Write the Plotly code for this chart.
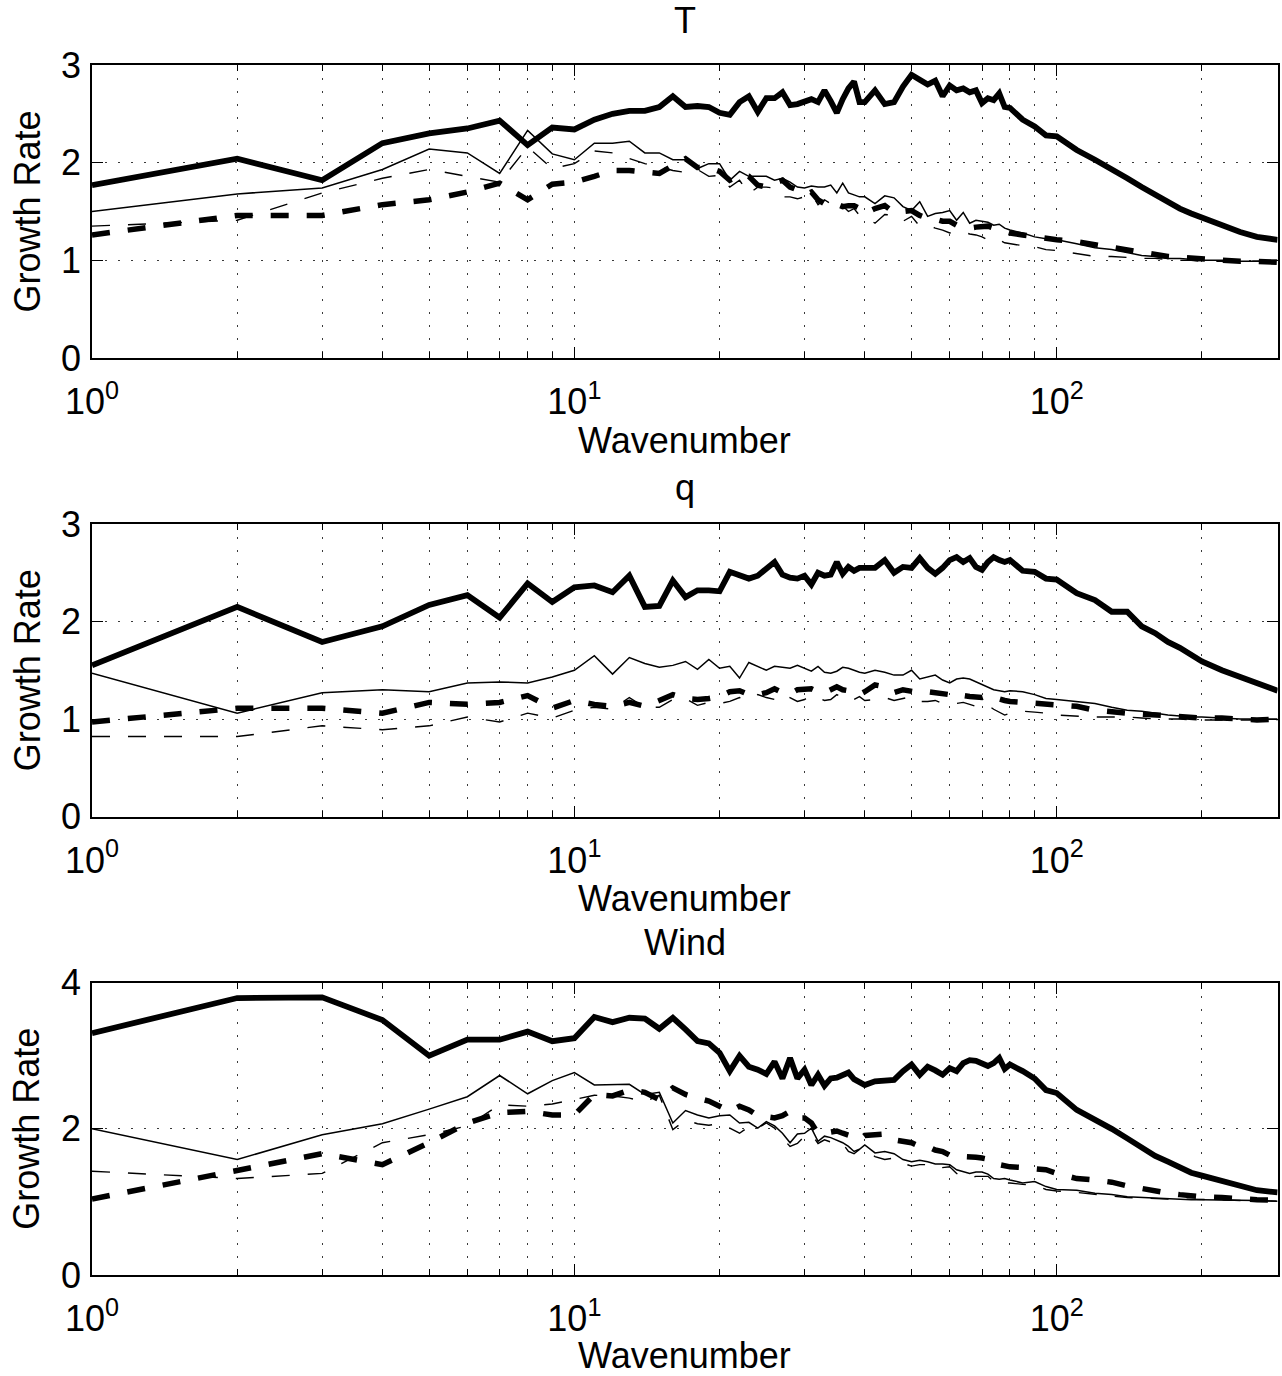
import math
import plotly.graph_objects as go

# Wavenumbers at which the growth rates are plotted
wavenumber = (list(range(1, 41)) + list(range(42, 81, 2)) + [85, 90, 95, 100]
              + list(range(110, 201, 10)) + [220, 240, 260, 287])

# ---- T ----
t_a = [1.77, 2.04, 1.82, 2.20, 2.30, 2.35, 2.43, 2.18, 2.36, 2.34,
       2.44, 2.50, 2.53, 2.53, 2.57, 2.68, 2.57, 2.58, 2.57, 2.51,
       2.49, 2.62, 2.68, 2.52, 2.66, 2.66, 2.72, 2.59, 2.60, 2.62,
       2.65, 2.62, 2.74, 2.63, 2.51, 2.65, 2.76, 2.83, 2.62, 2.62,
       2.74, 2.60, 2.62, 2.78, 2.90, 2.85, 2.80, 2.84, 2.68, 2.79,
       2.74, 2.76, 2.72, 2.74, 2.61, 2.66, 2.64, 2.71, 2.57, 2.56,
       2.44, 2.37, 2.28, 2.27,
       2.13, 2.03, 1.94, 1.84, 1.75, 1.67, 1.59, 1.53, 1.48, 1.44,
       1.35, 1.29, 1.24, 1.21]
t_b = [1.50, 1.68, 1.74, 1.93, 2.14, 2.10, 1.89, 2.33, 2.09, 2.03,
       2.20, 2.20, 2.22, 2.10, 2.10, 2.03, 2.03, 1.94, 1.99, 1.99,
       1.82, 1.91, 1.86, 1.86, 1.86, 1.82, 1.84, 1.80, 1.75, 1.74,
       1.76, 1.75, 1.75, 1.77, 1.69, 1.79, 1.69, 1.67, 1.65, 1.65,
       1.58, 1.66, 1.64, 1.55, 1.51, 1.60, 1.45, 1.48, 1.49, 1.51,
       1.41, 1.49, 1.38, 1.41, 1.40, 1.39, 1.36, 1.37, 1.33, 1.31,
       1.28, 1.24, 1.22, 1.21,
       1.17, 1.13, 1.11, 1.08, 1.05, 1.04, 1.02, 1.02, 1.01, 1.00,
       1.00, 0.99, 0.99, 1.00]
t_c = [1.35, 1.41, 1.69, 1.84, 1.93, 1.86, 1.80, 2.16, 1.94, 1.99,
       2.12, 2.10, 2.04, 1.99, 1.96, 1.92, 1.90, 1.93, 1.86, 1.87,
       1.75, 1.82, 1.68, 1.75, 1.75, 1.74, 1.65, 1.65, 1.63, 1.65,
       1.68, 1.57, 1.62, 1.58, 1.59, 1.56, 1.50, 1.53, 1.46, 1.45,
       1.38, 1.47, 1.46, 1.40, 1.45, 1.35, 1.36, 1.33, 1.31, 1.28,
       1.30, 1.29, 1.27, 1.26, 1.24, 1.21, 1.19, 1.21, 1.18, 1.17,
       1.15, 1.14, 1.11, 1.10,
       1.07, 1.04, 1.04, 1.03, 1.02, 1.02, 1.01, 1.00, 1.00, 0.99,
       0.99, 0.99, 0.99, 0.99]
t_d = [1.26, 1.46, 1.46, 1.57, 1.62, 1.70, 1.79, 1.62, 1.78, 1.80,
       1.86, 1.92, 1.92, 1.91, 1.89, 1.97, 2.04, 1.95, 1.95, 1.91,
       1.82, 1.87, 1.86, 1.77, 1.75, 1.79, 1.82, 1.75, 1.72, 1.67,
       1.70, 1.62, 1.58, 1.60, 1.58, 1.55, 1.56, 1.56, 1.53, 1.48,
       1.53, 1.56, 1.49, 1.50, 1.51, 1.46, 1.43, 1.42, 1.40, 1.40,
       1.36, 1.35, 1.33, 1.34, 1.35, 1.35, 1.33, 1.31, 1.30, 1.28,
       1.26, 1.24, 1.23, 1.21,
       1.19, 1.16, 1.12, 1.10, 1.07, 1.05, 1.04, 1.03, 1.02, 1.02,
       1.00, 0.99, 0.99, 0.98]

# ---- q ----
q_a = [1.55, 2.15, 1.79, 1.95, 2.17, 2.27, 2.04, 2.39, 2.20, 2.35,
       2.37, 2.30, 2.47, 2.15, 2.16, 2.42, 2.25, 2.32, 2.32, 2.31,
       2.51, 2.47, 2.44, 2.47, 2.55, 2.61, 2.48, 2.45, 2.44, 2.47,
       2.38, 2.50, 2.47, 2.48, 2.61, 2.49, 2.56, 2.52, 2.55, 2.55,
       2.55, 2.63, 2.50, 2.56, 2.55, 2.65, 2.55, 2.49, 2.55, 2.63,
       2.66, 2.61, 2.65, 2.56, 2.53, 2.61, 2.66, 2.63, 2.61, 2.63,
       2.52, 2.51, 2.44, 2.43,
       2.29, 2.22, 2.10, 2.10, 1.95, 1.88, 1.79, 1.73, 1.66, 1.59,
       1.50, 1.43, 1.37, 1.29]
q_b = [1.47, 1.06, 1.27, 1.30, 1.28, 1.37, 1.38, 1.37, 1.43, 1.50,
       1.65, 1.46, 1.63, 1.57, 1.53, 1.55, 1.59, 1.51, 1.61, 1.52,
       1.54, 1.42, 1.58, 1.54, 1.50, 1.54, 1.53, 1.52, 1.55, 1.52,
       1.49, 1.54, 1.48, 1.47, 1.49, 1.53, 1.52, 1.50, 1.48, 1.47,
       1.50, 1.48, 1.45, 1.45, 1.50, 1.41, 1.43, 1.45, 1.40, 1.37,
       1.41, 1.42, 1.41, 1.38, 1.35, 1.33, 1.30, 1.29, 1.28, 1.29,
       1.28, 1.25, 1.21, 1.20,
       1.18, 1.16, 1.12, 1.09, 1.08, 1.06, 1.04, 1.03, 1.02, 1.02,
       1.01, 1.00, 1.00, 1.00]
q_c = [0.82, 0.82, 0.93, 0.89, 0.93, 1.02, 0.97, 1.06, 1.01, 1.09,
       1.12, 1.10, 1.22, 1.12, 1.12, 1.20, 1.21, 1.14, 1.17, 1.16,
       1.18, 1.22, 1.20, 1.25, 1.22, 1.20, 1.26, 1.22, 1.18, 1.20,
       1.24, 1.22, 1.19, 1.20, 1.25, 1.22, 1.18, 1.20, 1.23, 1.19,
       1.20, 1.22, 1.19, 1.21, 1.23, 1.18, 1.18, 1.19, 1.16, 1.15,
       1.16, 1.17, 1.15, 1.13, 1.13, 1.14, 1.10, 1.07, 1.04, 1.06,
       1.08, 1.07, 1.06, 1.04,
       1.03, 1.02, 1.02, 1.02, 1.01, 1.00, 1.00, 1.00, 0.99, 0.99,
       0.99, 0.99, 0.99, 0.99]
q_d = [0.97, 1.11, 1.11, 1.06, 1.17, 1.15, 1.17, 1.24, 1.11, 1.19,
       1.15, 1.13, 1.17, 1.13, 1.19, 1.25, 1.21, 1.20, 1.21, 1.23,
       1.28, 1.29, 1.25, 1.25, 1.27, 1.31, 1.27, 1.26, 1.30, 1.31,
       1.31, 1.28, 1.27, 1.30, 1.33, 1.30, 1.29, 1.26, 1.25, 1.28,
       1.35, 1.33, 1.27, 1.30, 1.28, 1.27, 1.28, 1.27, 1.27, 1.25,
       1.27, 1.24, 1.23, 1.22, 1.22, 1.24, 1.22, 1.20, 1.19, 1.18,
       1.17, 1.16, 1.15, 1.14,
       1.13, 1.09, 1.07, 1.06, 1.05, 1.04, 1.03, 1.02, 1.02, 1.01,
       1.01, 1.00, 0.99, 1.00]

# ---- Wind ----
w_a = [3.31, 3.79, 3.80, 3.49, 3.00, 3.22, 3.22, 3.33, 3.20, 3.24,
       3.53, 3.46, 3.52, 3.51, 3.37, 3.52, 3.36, 3.20, 3.17, 3.04,
       2.79, 3.00, 2.85, 2.81, 2.75, 2.92, 2.69, 2.97, 2.69, 2.81,
       2.60, 2.74, 2.59, 2.69, 2.70, 2.74, 2.77, 2.68, 2.63, 2.60,
       2.65, 2.66, 2.67, 2.79, 2.88, 2.74, 2.85, 2.80, 2.74, 2.83,
       2.79, 2.90, 2.94, 2.93, 2.89, 2.86, 2.90, 2.97, 2.82, 2.88,
       2.79, 2.69, 2.53, 2.49,
       2.26, 2.13, 2.00, 1.87, 1.74, 1.63, 1.55, 1.48, 1.40, 1.36,
       1.29, 1.21, 1.16, 1.13]
w_b = [2.00, 1.58, 1.92, 2.07, 2.27, 2.44, 2.73, 2.48, 2.66, 2.77,
       2.60, 2.60, 2.61, 2.47, 2.50, 2.08, 2.25, 2.19, 2.15, 2.18,
       2.19, 2.08, 2.09, 2.01, 2.10, 2.04, 1.94, 1.81, 1.93, 1.94,
       2.01, 1.83, 1.90, 1.88, 1.85, 1.81, 1.76, 1.69, 1.72, 1.78,
       1.67, 1.69, 1.66, 1.58, 1.55, 1.57, 1.55, 1.52, 1.52, 1.51,
       1.44, 1.41, 1.39, 1.41, 1.41, 1.38, 1.32, 1.31, 1.32, 1.30,
       1.26, 1.28, 1.21, 1.17,
       1.16, 1.12, 1.10, 1.07, 1.06, 1.05, 1.04, 1.04, 1.03, 1.03,
       1.03, 1.02, 1.02, 1.01]
w_c = [1.42, 1.32, 1.39, 1.81, 1.92, 2.04, 2.33, 2.31, 2.34, 2.40,
       2.46, 2.45, 2.42, 2.37, 2.46, 1.99, 2.12, 2.07, 2.05, 2.07,
       2.01, 1.94, 2.03, 2.01, 2.08, 2.01, 1.87, 1.76, 1.80, 1.90,
       1.93, 1.80, 1.85, 1.82, 1.78, 1.80, 1.69, 1.66, 1.72, 1.74,
       1.62, 1.58, 1.60, 1.53, 1.49, 1.51, 1.51, 1.46, 1.47, 1.48,
       1.39, 1.34, 1.33, 1.35, 1.35, 1.35, 1.28, 1.29, 1.26, 1.26,
       1.24, 1.23, 1.17, 1.15,
       1.13, 1.10, 1.08, 1.06, 1.05, 1.05, 1.04, 1.04, 1.04, 1.03,
       1.03, 1.02, 1.02, 1.01]
w_d = [1.04, 1.44, 1.66, 1.51, 1.81, 2.08, 2.22, 2.24, 2.19, 2.19,
       2.47, 2.45, 2.53, 2.50, 2.40, 2.56, 2.47, 2.42, 2.38, 2.31,
       2.24, 2.31, 2.26, 2.18, 2.17, 2.15, 2.18, 2.24, 2.15, 2.15,
       2.08, 1.94, 1.94, 1.96, 1.97, 1.94, 1.92, 1.89, 1.85, 1.91,
       1.92, 1.93, 1.85, 1.83, 1.81, 1.76, 1.76, 1.71, 1.69, 1.64,
       1.64, 1.62, 1.62, 1.61, 1.60, 1.58, 1.57, 1.51, 1.49, 1.48,
       1.47, 1.45, 1.44, 1.39,
       1.32, 1.30, 1.27, 1.22, 1.18, 1.15, 1.12, 1.10, 1.08, 1.07,
       1.06, 1.04, 1.03, 1.02]

panel_titles = ["T", "q", "Wind"]
panel_series = [[t_a, t_b, t_c, t_d], [q_a, q_b, q_c, q_d], [w_a, w_b, w_c, w_d]]
panel_yticks = [[0, 1, 2, 3], [0, 1, 2, 3], [0, 2, 4]]
x_ticks = [1, 10, 100]
x_ticktext = ["10<sup>0</sup>", "10<sup>1</sup>", "10<sup>2</sup>"]
x_minor = [2, 3, 4, 5, 6, 7, 8, 9, 20, 30, 40, 50, 60, 70, 80, 90, 200]
x_max = 287

W, H = 1282, 1376
FONT = "Liberation Sans, Arial, sans-serif"
FS = 36

# plot-area boxes in pixels: (left, right, top, bottom)
boxes = [(92, 1277.6, 65, 358), (92, 1277.6, 524, 816.5), (92, 1277.6, 982.7, 1275)]
title_y = [21, 487, 942]
xlabel_y = [440, 898, 1355]

line_styles = [
    dict(width=5.8, dash="solid"),
    dict(width=1.5, dash="solid"),
    dict(width=1.4, dash="18px,18px"),
    dict(width=5.5, dash="18px,18px"),
]

fig = go.Figure()
grid = dict(gridcolor="#3a3a3a", griddash="2px,11px", gridwidth=1.4)

for i, (title, series, yt, box) in enumerate(zip(panel_titles, panel_series, panel_yticks, boxes)):
    n = "" if i == 0 else str(i + 1)
    left, right, top, bottom = box
    xd = [left / W, right / W]
    yd = [1 - bottom / H, 1 - top / H]
    for vals, st in zip(series, line_styles):
        fig.add_trace(go.Scatter(
            x=wavenumber, y=vals, mode="lines", xaxis="x" + n, yaxis="y" + n,
            line=dict(color="black", width=st["width"], dash=st["dash"]),
            showlegend=False, hoverinfo="skip"))
    fig.layout["xaxis" + n] = dict(
        type="log", range=[0, math.log10(x_max)], domain=xd, anchor="y" + n,
        automargin=False,
        tickmode="array", tickvals=x_ticks, ticktext=x_ticktext,
        ticks="inside", ticklen=11, tickwidth=1.3, tickcolor="black",
        showline=True, linecolor="black", linewidth=1.6, mirror="ticks",
        showgrid=True, zeroline=False, ticklabelstandoff=11,
        tickfont=dict(family=FONT, size=FS, color="black"),
        minor=dict(tickmode="array", tickvals=x_minor, ticks="inside", ticklen=6,
                   tickwidth=1.1, tickcolor="black", showgrid=True, **grid),
        **grid)
    fig.layout["yaxis" + n] = dict(
        range=[0, yt[-1]], domain=yd, anchor="x" + n,
        automargin=False,
        tickmode="array", tickvals=yt,
        ticks="inside", ticklen=11, tickwidth=1.3, tickcolor="black",
        showline=True, linecolor="black", linewidth=1.6, mirror="ticks",
        showgrid=True, zeroline=False, ticklabelstandoff=2,
        tickfont=dict(family=FONT, size=FS, color="black"),
        **grid)
    cx = (left + right) / 2 / W
    fig.add_annotation(text=title, x=cx, y=1 - title_y[i] / H, xref="paper", yref="paper",
                       xanchor="center", yanchor="middle", showarrow=False,
                       font=dict(family=FONT, size=FS, color="black"))
    fig.add_annotation(text="Wavenumber", x=cx, y=1 - xlabel_y[i] / H, xref="paper", yref="paper",
                       xanchor="center", yanchor="middle", showarrow=False,
                       font=dict(family=FONT, size=FS, color="black"))
    fig.add_annotation(text="Growth Rate", x=27 / W, y=1 - (top + bottom) / 2 / H,
                       xref="paper", yref="paper", textangle=-90,
                       xanchor="center", yanchor="middle", showarrow=False,
                       font=dict(family=FONT, size=FS, color="black"))

fig.update_layout(width=W, height=H, margin=dict(l=0, r=0, t=0, b=0, autoexpand=False),
                  paper_bgcolor="white", plot_bgcolor="white")
fig.write_html("out.html")
